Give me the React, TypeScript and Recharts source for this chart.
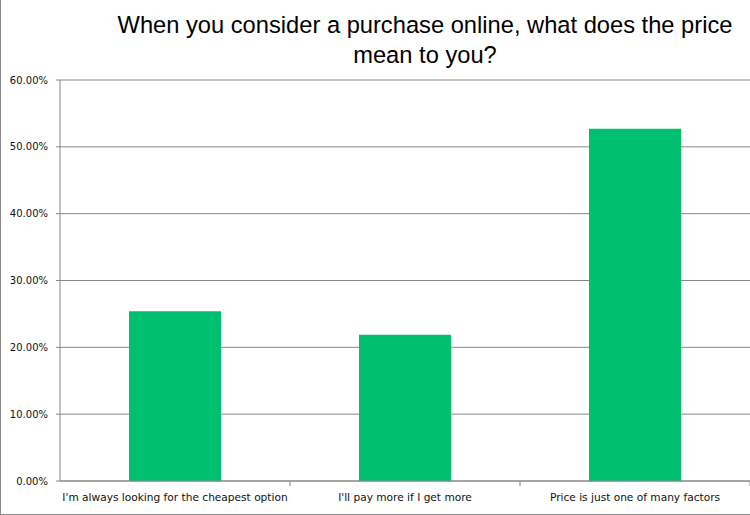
import React from "react";
import { BarChart, Bar, XAxis, YAxis, CartesianGrid } from "recharts";

const categories = [
  "I'm always looking for the cheapest option",
  "I'll pay more if I get more",
  "Price is just one of many factors",
];
const shares = [25.4, 21.9, 52.7];
const yTicks = [0, 10, 20, 30, 40, 50, 60];

const data = categories.map((name, i) => ({ name, value: shares[i] }));

const AXIS_COLOR = "#868686";

const CategoryTick = (props: any) => {
  const { x, y, payload } = props;
  const off = payload && payload.offset ? payload.offset : 0;
  return (
    <g>
      <line x1={x + off} x2={x + off} y1={y - 12} y2={y - 7} stroke={AXIS_COLOR} strokeWidth={1} />
      <text
        x={x}
        y={y}
        dy="0.71em"
        textAnchor="middle"
        fontFamily="'DejaVu Sans', sans-serif"
        fontSize={10.6}
        fill="#111"
      >
        {payload.value}
      </text>
    </g>
  );
};

export default function App() {
  return (
    <div style={{ position: "absolute", left: 0, top: 0, width: 750, height: 515, background: "#fff" }}>
      <BarChart
        width={750}
        height={515}
        data={data}
        margin={{ top: 80, right: 0, bottom: 0, left: 0 }}
        barCategoryGap="30%"
      >
        <CartesianGrid horizontal vertical={false} stroke={AXIS_COLOR} strokeWidth={1} />
        <XAxis
          dataKey="name"
          height={34}
          interval={0}
          tickSize={4}
          tickMargin={8}
          tickLine={false}
          axisLine={{ stroke: AXIS_COLOR }}
          tick={<CategoryTick />}
        />
        <YAxis
          width={60}
          domain={[0, 60]}
          ticks={yTicks}
          interval={0}
          tickSize={4}
          tickMargin={8}
          axisLine={{ stroke: AXIS_COLOR }}
          tickLine={{ stroke: AXIS_COLOR }}
          tickFormatter={(v: number) => `${v.toFixed(2)}%`}
          tick={{ fontFamily: "'DejaVu Sans', sans-serif", fontSize: 10, fill: "#111" }}
        />
        <Bar dataKey="value" fill="#00BF6F" isAnimationActive={false} />
      </BarChart>
      <div
        style={{
          position: "absolute",
          left: 100,
          top: 10,
          width: 650,
          textAlign: "center",
          fontFamily: "'Liberation Sans', Arial, sans-serif",
          fontSize: 23.7,
          lineHeight: "30px",
          color: "#000",
        }}
      >
        When you consider a purchase online, what does the price
        <br />
        mean to you?
      </div>
      <div style={{ position: "absolute", left: 0, top: 0, width: 1, height: 515, background: "#8a8a8a" }} />
      <div style={{ position: "absolute", left: 0, top: 514, width: 750, height: 1, background: "#8a8a8a" }} />
    </div>
  );
}
